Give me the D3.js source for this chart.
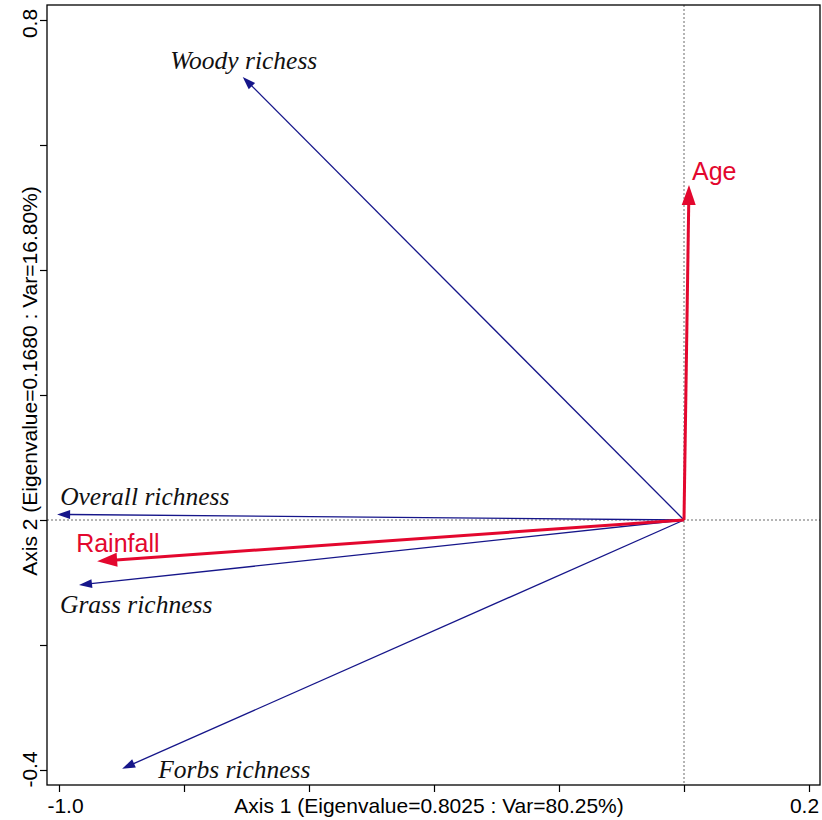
<!DOCTYPE html>
<html>
<head>
<meta charset="utf-8">
<script src="https://cdn.jsdelivr.net/npm/d3@7"></script>
<style>
  body { margin: 0; background: #fff; }
  svg { display: block; }
</style>
</head>
<body>
<div id="chart"></div>
<script>
// species vectors (response variables)
const speciesNames = ["Woody richess", "Overall richness", "Grass richness", "Forbs richness"]
const speciesX = [-0.706, -1.003, -0.968, -0.899]
const speciesY = [0.709, 0.009, -0.104, -0.398]

// environmental vectors
const envNames = ["Age", "Rainfall"]
const envX = [0.008, -0.939]
const envY = [0.536, -0.066]

const xTicks = [-1.0, -0.8, -0.6, -0.4, -0.2, 0.0, 0.2]
const yTicks = [-0.4, -0.2, 0.0, 0.2, 0.4, 0.6, 0.8]
const xTickLabels = { "-1": "-1.0", "0.2": "0.2" }
const yTickLabels = { "-0.4": "-0.4", "0.8": "0.8" }
const xTitle = "Axis 1 (Eigenvalue=0.8025 : Var=80.25%)"
const yTitle = "Axis 2 (Eigenvalue=0.1680 : Var=16.80%)"

const W = 822, H = 820
const box = { left: 47, right: 820, top: 5, bottom: 785 }
const SANS = "'Liberation Sans', Arial, sans-serif"
const SERIF = "'Liberation Serif', 'Times New Roman', serif"

const svg = d3.select("#chart").append("svg").attr("width", W).attr("height", H)
    .style("font-family", SANS)

const x = d3.scaleLinear().domain([-1.0, 0.2]).range([59, 809])
const y = d3.scaleLinear().domain([-0.4, 0.8]).range([770, 20])

// zero reference lines
svg.append("line")
    .attr("x1", x(0)).attr("x2", x(0)).attr("y1", box.top).attr("y2", box.bottom)
    .attr("stroke", "#444").attr("stroke-width", 0.8).attr("stroke-dasharray", "2,2")
svg.append("line")
    .attr("x1", box.left).attr("x2", box.right).attr("y1", y(0)).attr("y2", y(0))
    .attr("stroke", "#444").attr("stroke-width", 0.8).attr("stroke-dasharray", "2,2")

// axes
const ax = svg.append("g").attr("transform", `translate(0,${box.bottom})`)
    .call(d3.axisBottom(x).tickValues(xTicks).tickSize(7).tickSizeOuter(0)
        .tickFormat(d => xTickLabels[String(+d.toFixed(1))] || ""))
ax.select(".domain").remove()
ax.selectAll("line").attr("stroke", "#000").attr("stroke-width", 1.2)
ax.selectAll("text").style("font-size", "21px").style("font-family", SANS).attr("fill", "#000")
    .attr("y", 28).attr("dy", 0)
    .attr("dx", d => d < -0.5 ? 6 : -5)

const ay = svg.append("g").attr("transform", `translate(${box.left},0)`)
    .call(d3.axisLeft(y).tickValues(yTicks).tickSize(7).tickSizeOuter(0)
        .tickFormat(d => yTickLabels[String(+d.toFixed(1))] || ""))
ay.select(".domain").remove()
ay.selectAll("line").attr("stroke", "#000").attr("stroke-width", 1.2)
ay.selectAll("text").style("font-size", "21px").style("font-family", SANS).attr("fill", "#000")
    .attr("text-anchor", "middle").attr("x", 0).attr("y", 0).attr("dy", 0)
    .attr("transform", d => `translate(-10,${d > 0.5 ? 3 : -1}) rotate(-90)`)

// frame
svg.append("rect")
    .attr("x", box.left).attr("y", box.top)
    .attr("width", box.right - box.left).attr("height", box.bottom - box.top)
    .attr("fill", "none").attr("stroke", "#000").attr("stroke-width", 1.3)

// titles
svg.append("text")
    .attr("x", 429).attr("y", 813)
    .attr("text-anchor", "middle").style("font-size", "21px")
    .text(xTitle)
svg.append("text")
    .attr("transform", `translate(37,381) rotate(-90)`)
    .attr("text-anchor", "middle").style("font-size", "21px")
    .text(yTitle)

// arrow helper
function arrow(g, x1, y1, color, width, headLen, headW) {
    const x0 = x(0), y0 = y(0)
    const dx = x1 - x0, dy = y1 - y0
    const len = Math.sqrt(dx * dx + dy * dy)
    const ux = dx / len, uy = dy / len
    const bx = x1 - ux * headLen, by = y1 - uy * headLen
    g.append("line")
        .attr("x1", x0).attr("y1", y0).attr("x2", bx + ux * 1).attr("y2", by + uy * 1)
        .attr("stroke", color).attr("stroke-width", width)
    g.append("path")
        .attr("d", d3.line()([
            [x1, y1],
            [bx - uy * headW / 2, by + ux * headW / 2],
            [bx + uy * headW / 2, by - ux * headW / 2]
        ]) + "Z")
        .attr("fill", color)
}

const navy = "#16168a"
const red = "#e3072e"

const gSp = svg.append("g")
speciesNames.forEach((n, i) => {
    arrow(gSp, x(speciesX[i]), y(speciesY[i]), navy, 1.3, 13, 9)
})

const gEnv = svg.append("g")
envNames.forEach((n, i) => {
    arrow(gEnv, x(envX[i]), y(envY[i]), red, 3, 20, 14)
})

// labels (offsets in px from arrow tip)
const spLabelStyle = [
    { anchor: "middle", dx: 1, dy: -8 },
    { anchor: "start", dx: 3, dy: -9 },
    { anchor: "start", dx: -19, dy: 28 },
    { anchor: "start", dx: 36, dy: 9 }
]
speciesNames.forEach((n, i) => {
    svg.append("text")
        .attr("x", x(speciesX[i]) + spLabelStyle[i].dx)
        .attr("y", y(speciesY[i]) + spLabelStyle[i].dy)
        .attr("text-anchor", spLabelStyle[i].anchor)
        .style("font-family", SERIF)
        .style("font-style", "italic").style("font-size", "25.5px")
        .attr("fill", "#111")
        .text(n)
})

const envLabelStyle = [
    { anchor: "start", dx: 3, dy: -5 },
    { anchor: "start", dx: -21, dy: -9 }
]
envNames.forEach((n, i) => {
    svg.append("text")
        .attr("x", x(envX[i]) + envLabelStyle[i].dx)
        .attr("y", y(envY[i]) + envLabelStyle[i].dy)
        .attr("text-anchor", envLabelStyle[i].anchor)
        .style("font-size", "25px")
        .attr("fill", red)
        .text(n)
})
</script>
</body>
</html>
